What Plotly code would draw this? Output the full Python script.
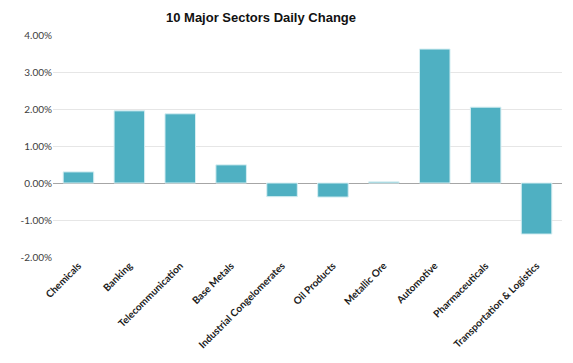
import plotly.graph_objects as go

categories = ["Chemicals", "Banking", "Telecommunication", "Base Metals",
              "Industrial Congelomerates", "Oil Products", "Metallic Ore",
              "Automotive", "Pharmaceuticals", "Transportation & Logistics"]
changes = [0.0030, 0.0195, 0.0187, 0.0049, -0.0037, -0.0038, 0.0003, 0.0362, 0.0205, -0.0138]
tick_vals = [-0.02, -0.01, 0.0, 0.01, 0.02, 0.03, 0.04]
tick_text = ["-2.00%", "-1.00%", "0.00%", "1.00%", "2.00%", "3.00%", "4.00%"]

fig = go.Figure(go.Bar(
    x=categories, y=changes,
    marker=dict(color="#4FB0C2", line=dict(color="#D6EEF2", width=1)),
))

fig.update_layout(
    width=573, height=363,
    margin=dict(l=40, r=19, t=27, b=114),
    paper_bgcolor="white", plot_bgcolor="white",
    title=dict(text="<b>10 Major Sectors Daily Change</b>", x=253/573, xanchor="center",
               y=1 - 9/363, yanchor="middle",
               font=dict(family="Liberation Sans, Arial", size=13, color="#111111")),
    bargap=0.4,
    showlegend=False,
)
fig.update_xaxes(tickangle=-45, showgrid=False, showline=False, ticks="",
                 tickfont=dict(family="Lato, Open Sans", size=10, color="#1A1A1A", weight="bold"))
fig.update_yaxes(range=[-0.02, 0.04], tickvals=tick_vals, ticktext=tick_text,
                 showgrid=True, gridcolor="#E6E6E6", gridwidth=1,
                 zeroline=True, zerolinecolor="#A6A6A6", zerolinewidth=1,
                 tickfont=dict(family="Lato, Open Sans", size=10, color="#404040"))

fig.write_html("out.html")
